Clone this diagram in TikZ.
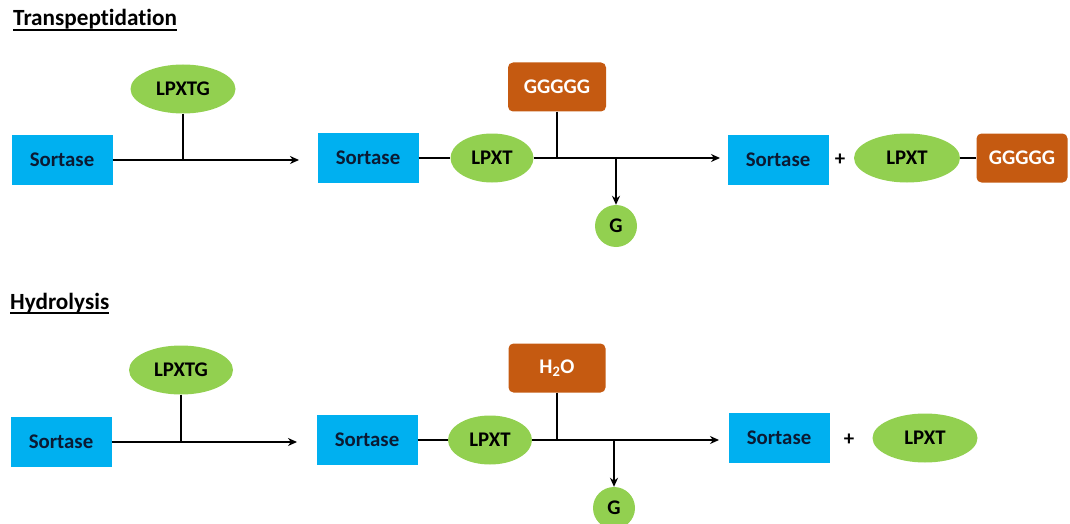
\documentclass[tikz,border=0pt]{standalone}
\usepackage{fontspec}
\setmainfont[Ligatures=NoCommon]{Carlito}
\usetikzlibrary{shapes.geometric,arrows.meta}
\definecolor{sblue}{HTML}{00B0F0}
\definecolor{pgreen}{HTML}{92D050}
\definecolor{porange}{HTML}{C55A11}
\definecolor{navytext}{HTML}{0B1A33}
\begin{document}
\begin{tikzpicture}[x=1pt,y=-1pt,
  lab/.style={font=\fontsize{20.8}{24}\selectfont\bfseries, inner sep=0pt},
  enzyme/.style={lab, fill=sblue, text=navytext, minimum width=101pt, minimum height=50pt},
  pep/.style={lab, ellipse, fill=pgreen, minimum width=105pt, minimum height=49pt},
  nuc/.style={lab, fill=porange, rounded corners=5pt, text=white, minimum width=98pt, minimum height=49pt},
  gly/.style={lab, circle, fill=pgreen, minimum size=42pt},
  link/.style={line width=2pt, black},
  arr/.style={link, -{Stealth[length=9pt,width=8pt]}},
  title/.style={font=\fontsize{23.2}{27}\selectfont\bfseries, anchor=base west, inner sep=0pt}]
\useasboundingbox (0,0) rectangle (1070,524);
\clip (0,0) rectangle (1070,524);

% titles
\node[title] (t1) at (13,26) {Transpeptidation};
\draw[line width=1.4pt] ([yshift=-4pt]t1.base west) -- ([yshift=-4pt]t1.base east);
\node[title] (t2) at (10,309) {Hydrolysis};
\draw[line width=1.4pt] ([yshift=-4pt]t2.base west) -- ([yshift=-4pt]t2.base east);

% ---------- Row 1: transpeptidation ----------
\node[enzyme] (s1) at (62,160) {Sortase};
\node[pep] (lg1) at (183,89) {LPXTG};
\coordinate (e1) at (299,160);
\draw[arr] (s1) -- (e1);
\draw[link] (lg1) -- (lg1 |- s1);

\node[enzyme] (s2) at (368,158) {Sortase};
\node[pep, minimum width=83pt] (lp2) at (492,158) {LPXT};
\draw[link] (s2) -- (lp2);
\node[nuc] (gg1) at (557,87) {GGGGG};
\coordinate (e2) at (720,158);
\draw[arr] (lp2) -- (e2);
\draw[link] (gg1) -- (gg1 |- lp2);
\node[gly] (g1) at (616,226) {G};
\coordinate (b1) at (616,158);
\draw[arr] (b1) -- (g1);

\node[enzyme] (s3) at (778,160) {Sortase};
\node[lab] (plus1) at (840,160) {+};
\node[pep, minimum width=106pt] (lp3) at (907,158) {LPXT};
\node[nuc, minimum width=91pt] (gg2) at (1022,158) {GGGGG};
\draw[link] (lp3) -- (gg2);

% ---------- Row 2: hydrolysis ----------
\node[enzyme] (s4) at (61,442) {Sortase};
\node[pep, minimum width=104pt] (lg2) at (181,370) {LPXTG};
\coordinate (e3) at (297,442);
\draw[arr] (s4) -- (e3);
\draw[link] (lg2) -- (lg2 |- s4);

\node[enzyme] (s5) at (367,440) {Sortase};
\node[pep, minimum width=84pt] (lp4) at (490,440) {LPXT};
\draw[link] (s5) -- (lp4);
\node[nuc, minimum width=97pt] (h2o) at (557,368) {H\textsubscript{2}O};
\coordinate (e4) at (719,440);
\draw[arr] (lp4) -- (e4);
\draw[link] (h2o) -- (h2o |- lp4);
\node[gly] (g2) at (614,508) {G};
\coordinate (b2) at (614,440);
\draw[arr] (b2) -- (g2);

\node[enzyme] (s6) at (779,438) {Sortase};
\node[lab] (plus2) at (849,440) {+};
\node[pep] (lp5) at (925,438) {LPXT};
\end{tikzpicture}
\end{document}
